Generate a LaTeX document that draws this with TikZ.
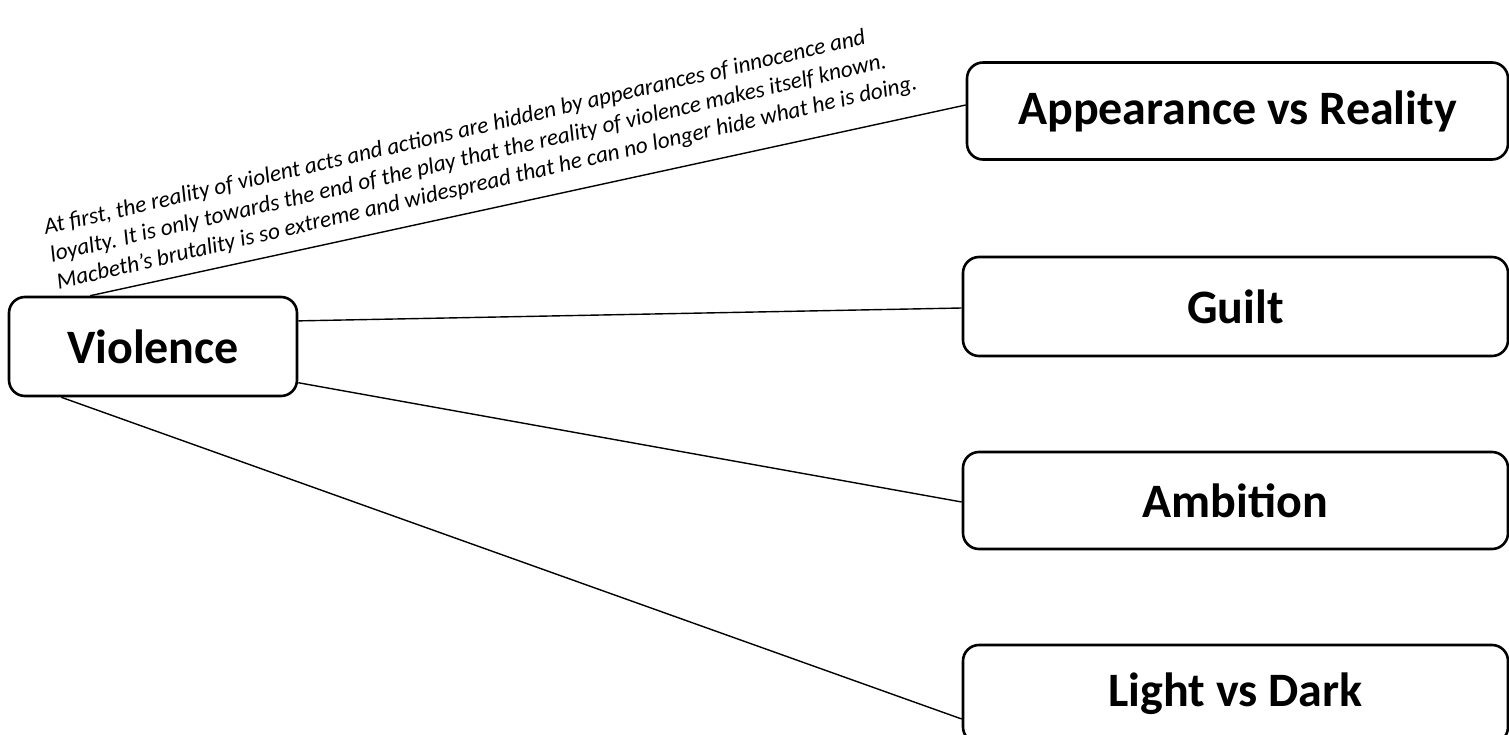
\documentclass[tikz,border=0pt]{standalone}
\usepackage{fontspec}
\setmainfont{Carlito}
\begin{document}
\begin{tikzpicture}[x=1pt,y=-1pt,
  box/.style={draw=black,line width=2.6pt,rounded corners=16pt,inner sep=0pt,
    font=\fontsize{48}{56}\selectfont\bfseries},
  conn/.style={draw=black,line width=1.4pt},
  note/.style={rotate=13.1,anchor=north west,inner sep=0pt,align=left,
    font=\fontsize{23.2}{28}\selectfont\itshape}]
\clip (0,0) rectangle (1509,735);
\fill[white] (0,0) rectangle (1509,735);
\node[box,minimum width=288pt,minimum height=99pt] (vio) at (153,346.5) {Violence};
\node[box,minimum width=541pt,minimum height=97pt] (app) at (1237.5,111) {Appearance vs Reality};
\node[box,minimum width=545pt,minimum height=99pt] (gui) at (1235.5,306.5) {Guilt};
\node[box,minimum width=545pt,minimum height=97pt] (amb) at (1235.5,500.5) {Ambition};
\node[box,minimum width=545pt,minimum height=98pt] (lig) at (1235.5,694) {Light vs Dark};
\node[note] (txt) at (42,219) {At first, the reality of violent acts and actions are hidden by appearances of innocence and\\
loyalty. It is only towards the end of the play that the reality of violence makes itself known.\\
Macbeth’s brutality is so extreme and widespread that he can no longer hide what he is doing.};
\draw[conn] (vio.141) -- ([yshift=6pt]app.west);
\draw[conn] (vio.10) -- ([yshift=-1.5pt]gui.west);
\draw[conn] (vio.-14) -- ([yshift=-1.5pt]amb.west);
\draw[conn] (vio.209) -- ([yshift=-25pt]lig.west);
\end{tikzpicture}
\end{document}
